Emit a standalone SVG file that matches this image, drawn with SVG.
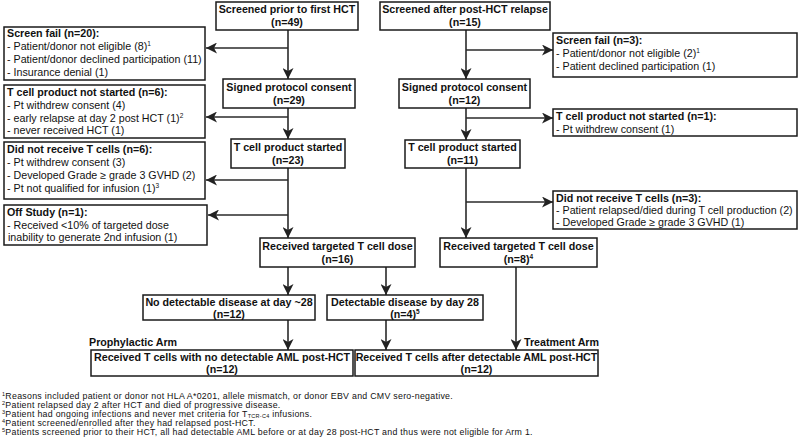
<svg xmlns="http://www.w3.org/2000/svg" width="800" height="443" viewBox="0 0 800 443">
<style>
.box{fill:#fff;stroke:#1a1a1a;stroke-width:1.5}
.t{font-family:"Liberation Sans",Arial,sans-serif;font-size:10.7px;fill:#111}
.b{font-weight:bold}
.c{text-anchor:middle}
.ln{stroke:#2a2a2a;stroke-width:1.6;fill:none}
.fn{font-family:"Liberation Sans",Arial,sans-serif;font-size:8.8px;letter-spacing:0.28px;fill:#111}
</style>
<defs>
<marker id="ah" viewBox="0 0 11 11" refX="11" refY="5.5" markerWidth="11" markerHeight="11" markerUnits="userSpaceOnUse" orient="auto">
<path d="M0,0 L11,5.5 L0,11 L3,5.5 z" fill="#222"/>
</marker>
</defs>

<g id="connectors">
<path class="ln" d="M288,30 V79" marker-end="url(#ah)"/>
<path class="ln" d="M288,48 H206" marker-end="url(#ah)"/>
<path class="ln" d="M288,108 V139" marker-end="url(#ah)"/>
<path class="ln" d="M288,117 H206" marker-end="url(#ah)"/>
<path class="ln" d="M288,168 V238" marker-end="url(#ah)"/>
<path class="ln" d="M288,180 H206" marker-end="url(#ah)"/>
<path class="ln" d="M288,215 H208" marker-end="url(#ah)"/>
<path class="ln" d="M288,267 V295" marker-end="url(#ah)"/>
<path class="ln" d="M386,267 V295" marker-end="url(#ah)"/>
<path class="ln" d="M288,320 V350" marker-end="url(#ah)"/>
<path class="ln" d="M386,320 V350" marker-end="url(#ah)"/>
<path class="ln" d="M466,30 V79" marker-end="url(#ah)"/>
<path class="ln" d="M466,50 H553" marker-end="url(#ah)"/>
<path class="ln" d="M466,108 V140" marker-end="url(#ah)"/>
<path class="ln" d="M466,118 H553" marker-end="url(#ah)"/>
<path class="ln" d="M466,168 V238" marker-end="url(#ah)"/>
<path class="ln" d="M466,202 H553" marker-end="url(#ah)"/>
<path class="ln" d="M516,267 V350" marker-end="url(#ah)"/>
</g>

<g id="screened-prior">
<rect class="box" x="216" y="2" width="142" height="28"/>
<text class="t b c" x="287" y="13">Screened prior to first HCT</text>
<text class="t b c" x="287" y="26">(n=49)</text>
</g>
<g id="screened-after">
<rect class="box" x="380" y="2" width="170" height="28"/>
<text class="t b c" x="465" y="13">Screened after post-HCT relapse</text>
<text class="t b c" x="465" y="26">(n=15)</text>
</g>

<g id="screen-fail-20">
<rect class="box" x="4" y="27" width="201" height="53"/>
<text class="t b" x="7" y="37">Screen fail (n=20):</text>
<text class="t" x="7" y="50.2">- Patient/donor not eligible (8)<tspan font-size="6.5" dy="-4">1</tspan></text>
<text class="t" x="7" y="63.4">- Patient/donor declined participation (11)</text>
<text class="t" x="7" y="76.4">- Insurance denial (1)</text>
</g>
<g id="screen-fail-3">
<rect class="box" x="553" y="33" width="244" height="44"/>
<text class="t b" x="556" y="44">Screen fail (n=3):</text>
<text class="t" x="556" y="57">- Patient/donor not eligible (2)<tspan font-size="6.5" dy="-4">1</tspan></text>
<text class="t" x="556" y="70">- Patient declined participation (1)</text>
</g>

<g id="signed-left">
<rect class="box" x="223" y="79" width="132" height="29"/>
<text class="t b c" x="289" y="90.5">Signed protocol consent</text>
<text class="t b c" x="289" y="104">(n=29)</text>
</g>
<g id="signed-right">
<rect class="box" x="399" y="79" width="131" height="29"/>
<text class="t b c" x="464.5" y="90.5">Signed protocol consent</text>
<text class="t b c" x="464.5" y="104">(n=12)</text>
</g>

<g id="not-started-6">
<rect class="box" x="4" y="85" width="201" height="53"/>
<text class="t b" x="7" y="95.5">T cell product not started (n=6):</text>
<text class="t" x="7" y="108.5">- Pt withdrew consent (4)</text>
<text class="t" x="7" y="121.5">- early relapse at day 2 post HCT (1)<tspan font-size="6.5" dy="-4">2</tspan></text>
<text class="t" x="7" y="134.2">- never received HCT (1)</text>
</g>
<g id="not-started-1">
<rect class="box" x="553" y="109" width="244" height="27"/>
<text class="t b" x="556" y="120">T cell product not started (n=1):</text>
<text class="t" x="556" y="133">- Pt withdrew consent (1)</text>
</g>

<g id="started-left">
<rect class="box" x="231" y="139" width="114" height="29"/>
<text class="t b c" x="288" y="150.5">T cell product started</text>
<text class="t b c" x="288" y="164">(n=23)</text>
</g>
<g id="started-right">
<rect class="box" x="405" y="140" width="115" height="28"/>
<text class="t b c" x="462.5" y="151">T cell product started</text>
<text class="t b c" x="462.5" y="164">(n=11)</text>
</g>

<g id="no-tcells-6">
<rect class="box" x="4" y="142" width="201" height="57"/>
<text class="t b" x="7" y="152.5">Did not receive T cells (n=6):</text>
<text class="t" x="7" y="165.5">- Pt withdrew consent (3)</text>
<text class="t" x="7" y="178.5">- Developed Grade ≥ grade 3 GVHD (2)</text>
<text class="t" x="7" y="191.5">- Pt not qualified for infusion (1)<tspan font-size="6.5" dy="-4">3</tspan></text>
</g>
<g id="no-tcells-3">
<rect class="box" x="553" y="191" width="244" height="38"/>
<text class="t b" x="556" y="201.5">Did not receive T cells (n=3):</text>
<text class="t" x="556" y="214">- Patient relapsed/died during T cell production (2)</text>
<text class="t" x="556" y="226.3">- Developed Grade ≥ grade 3 GVHD (1)</text>
</g>

<g id="off-study">
<rect class="box" x="4" y="205" width="203" height="40"/>
<text class="t b" x="7" y="215.5">Off Study (n=1):</text>
<text class="t" x="7" y="228.5">- Received &lt;10% of targeted dose</text>
<text class="t" x="8" y="241">inability to generate 2nd infusion (1)</text>
</g>

<g id="received-16">
<rect class="box" x="260" y="238" width="155" height="29"/>
<text class="t b c" x="337.5" y="249.5">Received targeted T cell dose</text>
<text class="t b c" x="337.5" y="263">(n=16)</text>
</g>
<g id="received-8">
<rect class="box" x="440" y="238" width="157" height="29"/>
<text class="t b c" x="518.5" y="249.5">Received targeted T cell dose</text>
<text class="t b c" x="518.5" y="263">(n=8)<tspan font-size="6.5" dy="-4">4</tspan></text>
</g>

<g id="no-detectable">
<rect class="box" x="143" y="295" width="172" height="25"/>
<text class="t b c" x="229" y="305.5">No detectable disease at day ~28</text>
<text class="t b c" x="229" y="317.5">(n=12)</text>
</g>
<g id="detectable">
<rect class="box" x="327" y="295" width="156" height="25"/>
<text class="t b c" x="405" y="305.5">Detectable disease by day 28</text>
<text class="t b c" x="405" y="317.5">(n=4)<tspan font-size="6.5" dy="-4">5</tspan></text>
</g>

<g id="prophylactic-arm">
<text class="t b" x="89" y="345.5">Prophylactic Arm</text>
<rect class="box" x="91" y="350" width="262" height="26"/>
<text class="t b c" x="222" y="361">Received T cells with no detectable AML post-HCT</text>
<text class="t b c" x="222" y="373">(n=12)</text>
</g>
<g id="treatment-arm">
<text class="t b" x="524" y="345.5">Treatment Arm</text>
<rect class="box" x="355" y="350" width="243" height="26"/>
<text class="t b c" x="476.5" y="361">Received T cells after detectable AML post-HCT</text>
<text class="t b c" x="476.5" y="373">(n=12)</text>
</g>

<g id="footnotes">
<text class="fn" x="2" y="398.5"><tspan font-size="5.5" dy="-3">1</tspan><tspan dy="3">Reasons included patient or donor not HLA A*0201, allele mismatch, or donor EBV and CMV sero-negative.</tspan></text>
<text class="fn" x="2" y="407.7"><tspan font-size="5.5" dy="-3">2</tspan><tspan dy="3">Patient relapsed day 2 after HCT and died of progressive disease.</tspan></text>
<text class="fn" x="2" y="416.9"><tspan font-size="5.5" dy="-3">3</tspan><tspan dy="3">Patient had ongoing infections and never met criteria for T</tspan><tspan font-size="5.5" dy="1.4">TCR-C4</tspan><tspan dy="-1.4"> infusions.</tspan></text>
<text class="fn" x="2" y="426.1"><tspan font-size="5.5" dy="-3">4</tspan><tspan dy="3">Patient screened/enrolled after they had relapsed post-HCT.</tspan></text>
<text class="fn" x="2" y="435.3"><tspan font-size="5.5" dy="-3">5</tspan><tspan dy="3">Patients screened prior to their HCT, all had detectable AML before or at day 28 post-HCT and thus were not eligible for Arm 1.</tspan></text>
</g>
</svg>
